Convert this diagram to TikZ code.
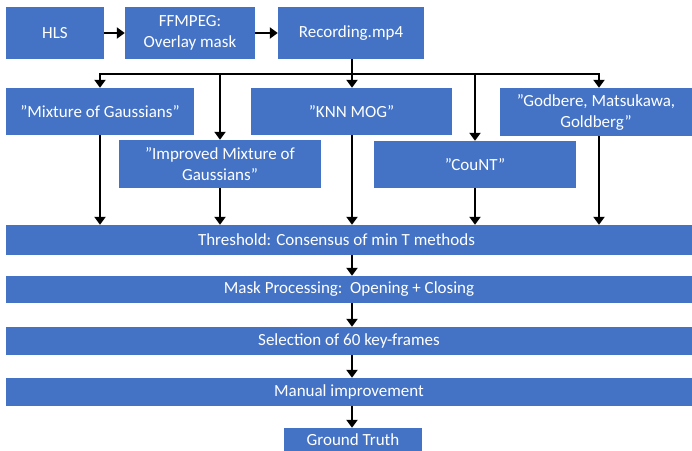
\documentclass[tikz,border=0pt]{standalone}
\usepackage{fontspec}
\setmainfont{Carlito}
\usetikzlibrary{arrows.meta}
\definecolor{boxblue}{HTML}{4472C4}
\tikzset{
  box/.style={fill=boxblue, draw=none, text=white, inner sep=0pt, align=center,
    font=\fontsize{17}{21}\selectfont},
  arr/.style={line width=2.8pt, -{Triangle[length=8pt,width=11pt]}},
  bus/.style={line width=2.8pt}
}
\begin{document}
\begin{tikzpicture}[x=1pt,y=-1pt]
\useasboundingbox (0,0) rectangle (692,450);
% top row
\node[box, minimum width=98pt, minimum height=52pt] (hls) at (55,33) {HLS};
\node[box, minimum width=130pt, minimum height=52pt] (ffm) at (190,33) {FFMPEG:\\Overlay mask};
\node[box, minimum width=146pt, minimum height=52pt] (rec) at (351,33) {Recording.mp4};
% methods
\node[box, minimum width=188pt, minimum height=47pt] (mog) at (100,111.5) {”Mixture of Gaussians”};
\node[box, minimum width=201pt, minimum height=47pt] (knn) at (351.5,111.5) {”KNN MOG”};
\node[box, minimum width=192pt, minimum height=48pt] (god) at (596,112) {”Godbere, Matsukawa,\\Goldberg”};
\node[box, minimum width=202pt, minimum height=48pt] (imp) at (220,164) {”Improved Mixture of\\Gaussians”};
\node[box, minimum width=202pt, minimum height=47pt] (cnt) at (475,164.5) {”CouNT”};
% bars
\node[box, minimum width=686pt, minimum height=30pt] (thr) at (349,240) {\hspace*{-25pt}Threshold: Consensus of min T methods};
\node[box, minimum width=686pt, minimum height=27pt] (msk) at (349,289.5) {Mask Processing:\ \ Opening + Closing};
\node[box, minimum width=686pt, minimum height=28pt] (sel) at (349,341) {Selection of 60 key-frames};
\node[box, minimum width=686pt, minimum height=28pt] (man) at (349,392) {Manual improvement};
\node[box, minimum width=138pt, minimum height=24pt] (gt) at (353,440) {Ground Truth};
% top arrows
\draw[arr] (hls.east) -- (ffm.west);
\draw[arr] (ffm.east) -- (rec.west);
% bus
\coordinate (b1) at (100,74);
\coordinate (b2) at (220,74);
\coordinate (b3) at (352,74);
\coordinate (b4) at (475,74);
\coordinate (b5) at (599,74);
\draw[bus] (rec.south -| b3) -- (b3);
\draw[bus, line cap=rect] (b1) -- (b5);
\draw[arr] (b1) -- (b1 |- mog.north);
\draw[arr] (b2) -- (b2 |- imp.north);
\draw[arr] (b3) -- (b3 |- knn.north);
\draw[arr] (b4) -- (b4 |- cnt.north);
\draw[arr] (b5) -- (b5 |- god.north);
% down to threshold
\draw[arr] (mog.south -| b1) -- (b1 |- thr.north);
\draw[arr] (imp.south -| b2) -- (b2 |- thr.north);
\draw[arr] (knn.south -| b3) -- (b3 |- thr.north);
\draw[arr] (cnt.south -| b4) -- (b4 |- thr.north);
\draw[arr] (god.south -| b5) -- (b5 |- thr.north);
% chain
\draw[arr] (thr.south -| b3) -- (b3 |- msk.north);
\draw[arr] (msk.south -| b3) -- (b3 |- sel.north);
\draw[arr] (sel.south -| b3) -- (b3 |- man.north);
\draw[arr] (man.south -| b3) -- (b3 |- gt.north);
\end{tikzpicture}
\end{document}
